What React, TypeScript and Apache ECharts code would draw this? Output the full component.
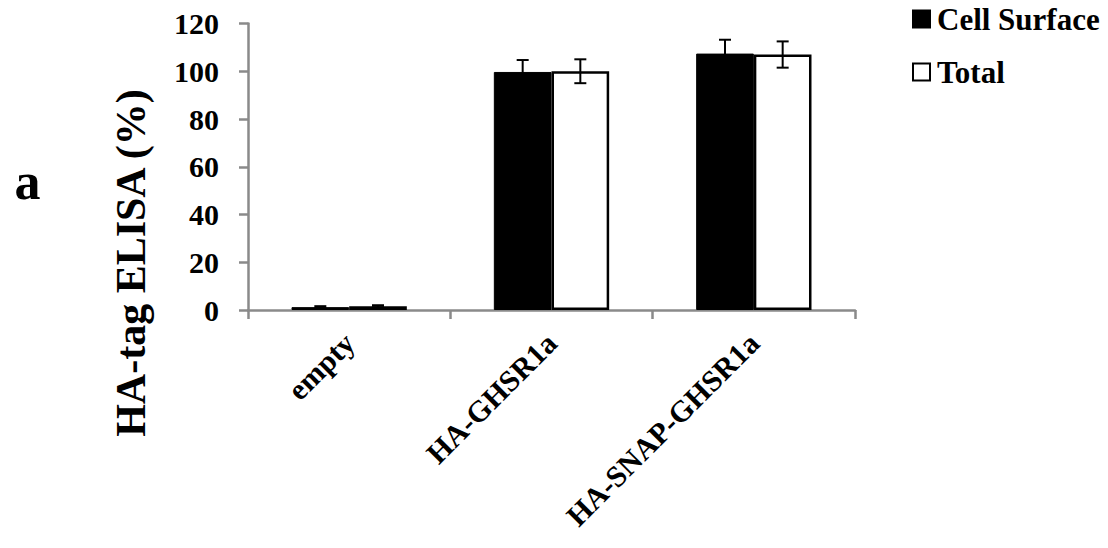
import React, { useEffect, useRef } from "react";
import * as echarts from "echarts";

const categories = ["empty", "HA-GHSR1a", "HA-SNAP-GHSR1a"];
const cellSurface = [1.2, 99.7, 107.4];
const cellSurfaceErr = [0.4, 5.0, 5.8];
const total = [1.6, 100.0, 107.0];
const totalErr = [0.4, 5.0, 5.5];
const seriesNames = ["Cell Surface", "Total"];
const yTicks = { min: 0, max: 120, interval: 20 };

const FONT = "'Liberation Serif', 'Times New Roman', serif";
const AXIS_GRAY = "#8a8a8a";
const CAT_GAP = 0.43;

function errorSeries(values: number[], errs: number[], side: number) {
  return {
    type: "custom",
    silent: true,
    z: 10,
    data: values.map((v, i) => [i, v, errs[i]]),
    renderItem: (params: any, api: any) => {
      const idx = api.value(0);
      const v = api.value(1);
      const e = api.value(2);
      const center = api.coord([idx, v]);
      const catW = api.size([1, 0])[0];
      const bw = (catW * (1 - CAT_GAP)) / 2;
      const x = center[0] + (side * bw) / 2;
      const top = api.coord([idx, v + e])[1];
      const bot = api.coord([idx, v - e])[1];
      const cap = 6;
      const style = { stroke: "#000", lineWidth: 2 };
      return {
        type: "group",
        children: [
          { type: "line", shape: { x1: x, y1: top, x2: x, y2: bot }, style },
          { type: "line", shape: { x1: x - cap, y1: top, x2: x + cap, y2: top }, style },
          { type: "line", shape: { x1: x - cap, y1: bot, x2: x + cap, y2: bot }, style },
        ],
      };
    },
  };
}

export default function App() {
  const ref = useRef<HTMLDivElement>(null);
  useEffect(() => {
    if (!ref.current) return;
    const chart = echarts.init(ref.current, null, { renderer: "svg" });
    chart.setOption({
      animation: false,
      backgroundColor: "#fff",
      textStyle: { fontFamily: FONT },
      grid: { left: 248, right: 253, top: 23.5, bottom: 238, containLabel: false },
      legend: {
        orient: "vertical",
        left: 912,
        top: 3.5,
        padding: 0,
        itemWidth: 17,
        itemHeight: 17,
        itemGap: 22,
        icon: "rect",
        data: seriesNames,
        textStyle: { fontFamily: FONT, fontSize: 31, fontWeight: "bold", color: "#000", padding: [0, 0, 0, 2] },
      },
      xAxis: {
        type: "category",
        data: categories,
        boundaryGap: true,
        axisLine: { lineStyle: { color: AXIS_GRAY, width: 2.5 } },
        axisTick: { show: true, length: 9, lineStyle: { color: AXIS_GRAY, width: 2.5 } },
        axisLabel: {
          rotate: 45,
          margin: 28,
          interval: 0,
          fontFamily: FONT,
          fontSize: 30,
          fontWeight: "bold",
          color: "#000",
        },
      },
      yAxis: {
        type: "value",
        min: yTicks.min,
        max: yTicks.max,
        interval: yTicks.interval,
        splitLine: { show: false },
        axisLine: { show: true, lineStyle: { color: AXIS_GRAY, width: 2.5 } },
        axisTick: { show: true, length: 9, lineStyle: { color: AXIS_GRAY, width: 2.5 } },
        axisLabel: {
          margin: 29,
          fontFamily: FONT,
          fontSize: 30,
          fontWeight: "bold",
          color: "#000",
        },
      },
      graphic: [
        {
          type: "text",
          x: 131,
          y: 263,
          rotation: Math.PI / 2,
          style: {
            text: "HA-tag ELISA (%)",
            font: `bold 42px ${FONT}`,
            fill: "#000",
            textAlign: "center",
            textVerticalAlign: "middle",
          },
        },
        {
          type: "text",
          x: 27.5,
          y: 181,
          style: {
            text: "a",
            font: `bold 52px ${FONT}`,
            fill: "#000",
            textAlign: "center",
            textVerticalAlign: "middle",
          },
        },
      ],
      series: [
        {
          name: seriesNames[0],
          type: "bar",
          data: cellSurface,
          barGap: "0%",
          barCategoryGap: `${CAT_GAP * 100}%`,
          itemStyle: { color: "#000", borderColor: "#000", borderWidth: 1 },
        },
        {
          name: seriesNames[1],
          type: "bar",
          data: total,
          barGap: "0%",
          barCategoryGap: `${CAT_GAP * 100}%`,
          itemStyle: { color: "#fff", borderColor: "#000", borderWidth: 2.5 },
        },
        errorSeries(cellSurface, cellSurfaceErr, -1),
        errorSeries(total, totalErr, 1),
      ],
    });
    return () => chart.dispose();
  }, []);
  return <div ref={ref} style={{ width: 1108, height: 548, position: "absolute", left: 0, top: 0 }} />;
}
